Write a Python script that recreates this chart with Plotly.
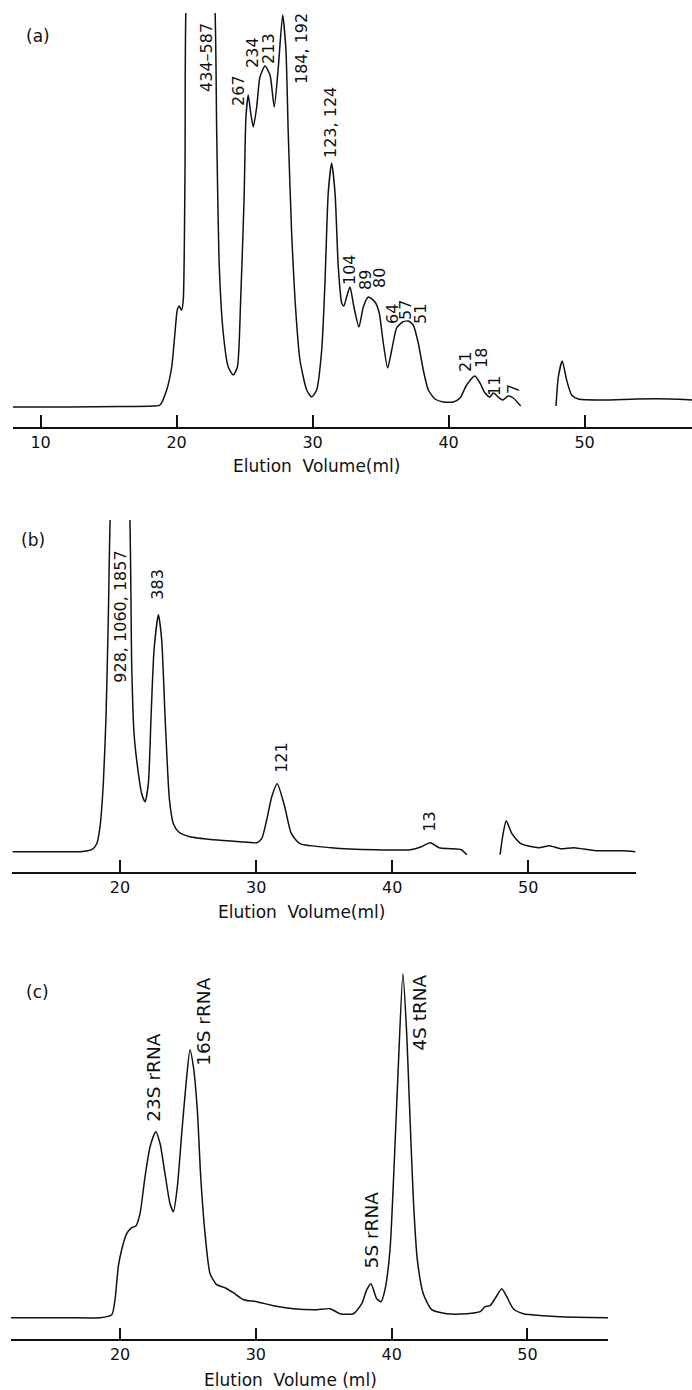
import plotly.graph_objects as go

W, H = 692, 1390

# ---------------- data (elution volume in ml, absorbance in arbitrary units) ----------------
# Panel (a)
a_vol = [7.97, 12.0, 16.0, 18.3, 18.78, 19.27, 19.64, 19.88, 20.05, 20.2, 20.3, 20.37, 20.49, 20.62, 20.69,
         21.75, 22.82, 22.95, 23.14, 23.43, 23.8, 24.17, 24.47, 24.71, 24.96, 25.1, 25.27, 25.45, 25.64,
         25.89, 26.13, 26.5, 26.87, 27.18, 27.48, 27.8, 28.04, 28.21, 28.46, 28.71, 29.07, 29.57, 29.93,
         30.3, 30.67, 30.91, 31.15, 31.4, 31.65, 31.89, 32.14, 32.3, 32.5, 32.75, 33.04, 33.41, 33.73,
         34.1, 34.59, 34.9, 35.2, 35.52, 35.82, 36.18, 36.62, 37.04, 37.4, 37.77, 38.14, 38.51, 39.0,
         39.61, 40.35, 40.84, 41.33, 41.94, 42.31, 42.68, 43.04, 43.29, 43.65, 43.98, 44.39, 44.76, 45.3,
         None,
         47.9, 48.07, 48.36, 48.68, 49.05, 49.54, 51.38, 53.83, 56.28, 57.9]
a_abs = [0, 0, 0.5, 1, 2, 17, 40, 74, 97, 101, 98, 97, 107, 240, 400,
         650, 400, 274, 140, 74, 40, 32, 40, 107, 207, 290, 312, 294, 280,
         300, 330, 341, 332, 300, 340, 392, 357, 274, 174, 107, 47, 17, 10,
         17, 57, 124, 214, 244, 214, 140, 104, 101, 110, 120, 100, 80, 100,
         110, 105, 94, 64, 39, 57, 79, 85, 86, 82, 64, 37, 17, 8,
         5, 5, 9, 22, 31, 24, 14, 10, 14, 10, 7, 11, 9, 1,
         None,
         1, 30, 46, 27, 12, 8, 7, 8, 8, 7]
a_labels = ["434\u2013587", "267", "234", "213", "184, 192", "123, 124", "104", "89", "80",
            "64", "57", "51", "21", "18", "11", "7"]
a_label_vol = [22.16, 24.51, 25.54, 26.72, 29.15, 31.28, 32.68, 33.85, 34.88,
               35.84, 36.79, 37.9, 41.21, 42.38, 43.34, 44.74]
a_label_abs = [350, 317, 355, 359, 358, 285, 137, 127, 129, 93, 97, 93, 45, 49, 21, 18]

# Panel (b)
b_vol = [12.09, 15.0, 17.06, 17.92, 18.29, 18.53, 18.77, 18.97, 19.14, 19.29, 20.0, 20.71, 20.86, 21.03,
         21.35, 21.59, 21.84, 22.08, 22.28, 22.5, 22.82, 23.06, 23.31, 23.63, 23.92, 24.29, 25.14, 26.86,
         28.82, 30.05, 30.41, 30.78, 31.15, 31.55, 32.1, 32.59, 33.23, 35.51, 38.75, 41.34, 42.15, 42.8,
         43.45, 44.26, 45.07, 45.49,
         None,
         47.93, 48.15, 48.38, 48.8, 49.45, 50.75, 51.56, 52.37, 53.34, 54.97, 56.9, 57.88]
b_abs = [0, 0, 0, 2, 8, 25, 68, 135, 235, 340, 520, 340, 185, 118,
         78, 58, 50, 68, 135, 202, 237, 212, 135, 52, 28, 20, 15, 12,
         10, 9, 13, 32, 55, 68, 45, 18, 8, 4, 2, 2, 5, 9,
         4, 3, 2, -3,
         None,
         -3, 18, 31, 18, 8, 4, 6, 3, 4, 1, 1, 0]
b_labels = ["928, 1060, 1857", "383", "121", "13"]
b_label_vol = [20.07, 22.79, 31.91, 42.78]
b_label_abs = [235, 267, 94, 30]

# Panel (c)
c_vol = [11.97, 16.0, 18.53, 19.39, 19.63, 19.87, 20.12, 20.49, 20.86, 21.18, 21.47, 21.84, 22.21, 22.63,
         22.95, 23.31, 23.68, 23.93, 24.22, 24.54, 24.86, 25.15, 25.4, 25.69, 25.94, 26.26, 26.63, 27.12,
         27.73, 28.34, 29.08, 30.07, 31.29, 32.76, 34.48, 35.46, 36.2, 37.18, 37.8, 38.17, 38.48, 38.9,
         39.22, 39.51, 39.88, 40.18, 40.49, 40.83, 41.11, 41.3, 41.6, 41.89, 42.33, 42.95, 44.06, 45.53,
         46.51, 46.88, 47.25, 47.61, 48.11, 48.48, 48.96, 49.7, 51.17, 52.4, 55.94]
c_abs = [0, 0, 0, 3, 18, 51, 68, 84, 90, 92, 104, 141, 171, 186,
         174, 144, 114, 106, 131, 184, 234, 268, 251, 208, 141, 84, 44, 33,
         30, 25, 18, 16, 12, 9, 8, 9, 4, 4, 14, 28, 34, 19,
         16, 28, 68, 151, 251, 344, 284, 218, 118, 58, 24, 8, 4, 4,
         6, 11, 12, 19, 29, 21, 9, 4, 2, 1, 0]
c_labels = ["23S rRNA", "16S rRNA", "5S rRNA", "4S tRNA"]
c_label_vol = [22.5, 26.19, 38.53, 42.09]
c_label_abs = [240, 296, 88, 305]

tick_vals = [10, 20, 30, 40, 50]
tick_text = ["10", "20", "30", "40", "50"]
panel_tags = ["(a)", "(b)", "(c)"]
axis_titles = ["Elution\u00a0 Volume(ml)", "Elution\u00a0 Volume(ml)", "Elution\u00a0 Volume\u00a0(ml)"]

# ---------------- layout geometry (pixels) ----------------
FONT = "DejaVu Sans"
INK = "#111111"

panels = [
    dict(x0=13, x1=692, ybot=427, ytop=13, xr=[7.97, 57.90], yr=[-20, 394]),
    dict(x0=12.4, x1=635.5, ybot=871.7, ytop=520, xr=[12.09, 57.88], yr=[-20, 331.7]),
    dict(x0=11, x1=608.1, ybot=1339.3, ytop=965, xr=[11.97, 55.94], yr=[-21.6, 352.7]),
]

fig = go.Figure()
series = [(a_vol, a_abs), (b_vol, b_abs), (c_vol, c_abs)]
for i, (xs, ys) in enumerate(series):
    sfx = "" if i == 0 else str(i + 1)
    fig.add_trace(go.Scatter(
        x=xs, y=ys, mode="lines", xaxis="x" + sfx, yaxis="y" + sfx,
        line=dict(color=INK, width=1.5, shape="spline", smoothing=0.6),
        connectgaps=False, hoverinfo="skip", showlegend=False))

layout = dict(
    width=W, height=H, margin=dict(l=0, r=0, t=0, b=0),
    paper_bgcolor="white", plot_bgcolor="white", showlegend=False,
    font=dict(family=FONT, color=INK, size=16),
)
for i, p in enumerate(panels):
    sfx = "" if i == 0 else str(i + 1)
    layout["xaxis" + sfx] = dict(
        domain=[p["x0"] / W, p["x1"] / W], range=p["xr"], anchor="y" + sfx,
        showline=True, linewidth=1.6, linecolor=INK, mirror=False,
        ticks="inside", ticklen=12, tickwidth=1.5, tickcolor=INK,
        tickvals=tick_vals, ticktext=tick_text, tickfont=dict(size=16, family=FONT, color=INK),
        showgrid=False, zeroline=False, fixedrange=True)
    layout["yaxis" + sfx] = dict(
        domain=[1 - p["ybot"] / H, 1 - p["ytop"] / H], range=p["yr"], anchor="x" + sfx,
        visible=False, showgrid=False, zeroline=False, fixedrange=True)

annotations = []
label_sets = [(a_labels, a_label_vol, a_label_abs, 16),
              (b_labels, b_label_vol, b_label_abs, 16),
              (c_labels, c_label_vol, c_label_abs, 18.5)]
for i, (labs, lx, ly, fs) in enumerate(label_sets):
    sfx = "" if i == 0 else str(i + 1)
    for t, x, y in zip(labs, lx, ly):
        annotations.append(dict(text=t, x=x, y=y, xref="x" + sfx, yref="y" + sfx,
                                showarrow=False, textangle=-90, font=dict(size=fs, family=FONT, color=INK),
                                xanchor="center", yanchor="middle"))

tag_pos = [(38, 36), (33, 540), (37.5, 992)]
title_pos = [(316, 466), (301, 911.5), (290, 1380)]
for i in range(3):
    tx, ty = tag_pos[i]
    annotations.append(dict(text=panel_tags[i], x=tx / W, y=1 - ty / H, xref="paper", yref="paper",
                            showarrow=False, font=dict(size=17, family=FONT, color=INK),
                            xanchor="center", yanchor="middle"))
    hx, hy = title_pos[i]
    annotations.append(dict(text=axis_titles[i], x=hx / W, y=1 - hy / H, xref="paper", yref="paper",
                            showarrow=False, font=dict(size=17, family=FONT, color=INK),
                            xanchor="center", yanchor="middle"))
layout["annotations"] = annotations

fig.update_layout(**layout)
fig.write_html("out.html")
